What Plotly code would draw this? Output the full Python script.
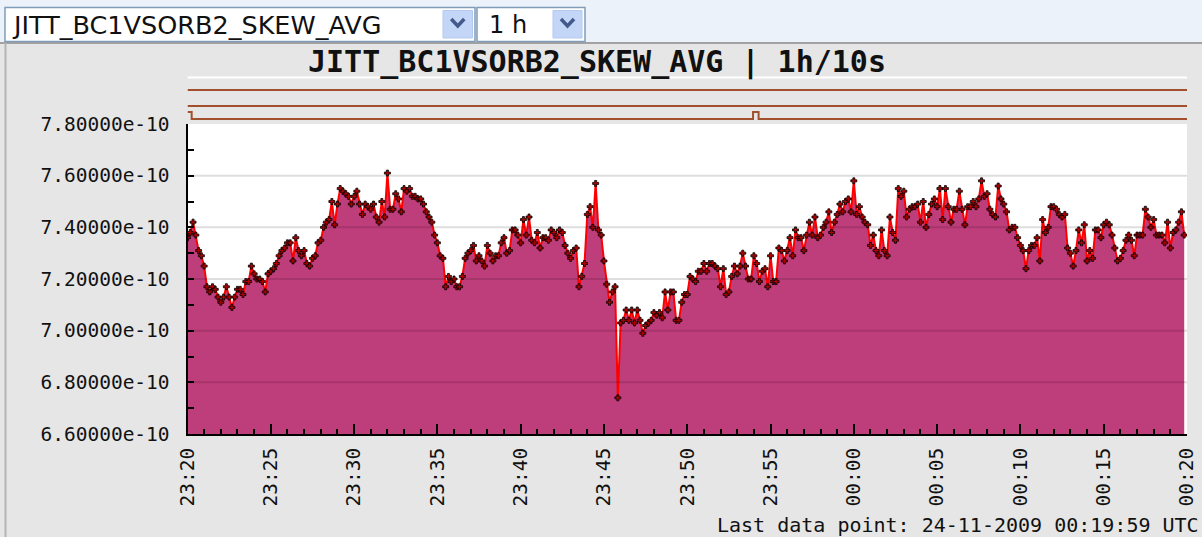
import plotly.graph_objects as go
import pandas as pd

# ---------------- data ----------------
series_name = "JITT_BC1VSORB2_SKEW_AVG"
period_label = "1 h"
title_text = "JITT_BC1VSORB2_SKEW_AVG | 1h/10s"
footer_text = "Last data point: 24-11-2009 00:19:59 UTC"

start_time = "2009-11-23 23:20:00"
end_time = "2009-11-24 00:20:00"
sample_step = "10s"

# values in units of 1e-10 (one row per minute, 6 samples per minute)
values_e10 = [
    7.36, 7.38, 7.42, 7.37, 7.31, 7.29,
    7.25, 7.17, 7.15, 7.17, 7.16, 7.13,
    7.11, 7.13, 7.17, 7.13, 7.09, 7.13,
    7.16, 7.16, 7.14, 7.19, 7.19, 7.25,
    7.22, 7.20, 7.20, 7.19, 7.15, 7.22,
    7.23, 7.24, 7.26, 7.29, 7.31, 7.32,
    7.34, 7.34, 7.27, 7.36, 7.31, 7.29,
    7.31, 7.26, 7.25, 7.28, 7.29, 7.34,
    7.35, 7.40, 7.42, 7.43, 7.50, 7.41,
    7.49, 7.55, 7.54, 7.53, 7.52, 7.49,
    7.52, 7.54, 7.49, 7.45, 7.49, 7.48,
    7.47, 7.49, 7.44, 7.42, 7.50, 7.44,
    7.61, 7.47, 7.47, 7.53, 7.51, 7.46,
    7.55, 7.54, 7.55, 7.52, 7.52, 7.51,
    7.51, 7.49, 7.46, 7.44, 7.42, 7.37,
    7.34, 7.29, 7.28, 7.17, 7.21, 7.19,
    7.20, 7.17, 7.17, 7.21, 7.28, 7.30,
    7.31, 7.33, 7.27, 7.29, 7.27, 7.25,
    7.33, 7.30, 7.27, 7.29, 7.29, 7.34,
    7.36, 7.30, 7.31, 7.39, 7.39, 7.37,
    7.34, 7.43, 7.37, 7.44, 7.35, 7.34,
    7.38, 7.32, 7.36, 7.36, 7.35, 7.39,
    7.38, 7.36, 7.39, 7.38, 7.33, 7.30,
    7.28, 7.31, 7.32, 7.17, 7.21, 7.26,
    7.45, 7.48, 7.40, 7.57, 7.39, 7.37,
    7.27, 7.18, 7.11, 7.15, 7.17, 6.74,
    7.03, 7.04, 7.08, 7.04, 7.08, 7.03,
    7.08, 7.04, 6.99, 7.02, 7.03, 7.04,
    7.07, 7.06, 7.07, 7.05, 7.15, 7.08,
    7.15, 7.15, 7.04, 7.04, 7.11, 7.14,
    7.14, 7.21, 7.20, 7.19, 7.23, 7.23,
    7.26, 7.23, 7.26, 7.26, 7.25, 7.24,
    7.17, 7.24, 7.14, 7.15, 7.21, 7.25,
    7.22, 7.25, 7.30, 7.25, 7.20, 7.20,
    7.29, 7.26, 7.19, 7.23, 7.24, 7.17,
    7.29, 7.19, 7.19, 7.32, 7.31, 7.27,
    7.31, 7.36, 7.29, 7.39, 7.36, 7.36,
    7.31, 7.37, 7.42, 7.37, 7.44, 7.36,
    7.37, 7.40, 7.42, 7.46, 7.38, 7.42,
    7.45, 7.49, 7.46, 7.50, 7.51, 7.46,
    7.58, 7.45, 7.48, 7.44, 7.42, 7.41,
    7.33, 7.37, 7.31, 7.29, 7.39, 7.31,
    7.29, 7.44, 7.38, 7.35, 7.55, 7.52,
    7.54, 7.44, 7.47, 7.48, 7.48, 7.49,
    7.42, 7.50, 7.40, 7.45, 7.49, 7.51,
    7.48, 7.55, 7.43, 7.55, 7.48, 7.42,
    7.47, 7.47, 7.54, 7.47, 7.41, 7.48,
    7.48, 7.50, 7.48, 7.51, 7.58, 7.52,
    7.53, 7.47, 7.45, 7.44, 7.56, 7.51,
    7.49, 7.46, 7.39, 7.40, 7.40, 7.36,
    7.33, 7.31, 7.24, 7.31, 7.33, 7.33,
    7.36, 7.27, 7.43, 7.38, 7.40, 7.48,
    7.48, 7.47, 7.45, 7.44, 7.45, 7.32,
    7.30, 7.25, 7.31, 7.39, 7.34, 7.41,
    7.27, 7.31, 7.28, 7.39, 7.39, 7.36,
    7.41, 7.42, 7.41, 7.37, 7.32, 7.27,
    7.28, 7.31, 7.35, 7.37, 7.35, 7.29,
    7.37, 7.37, 7.37, 7.47, 7.44, 7.40,
    7.43, 7.37, 7.37, 7.37, 7.34, 7.42,
    7.32, 7.38, 7.39, 7.42, 7.46, 7.37,
]

# status bit lines above the chart (state changes, 'hv' steps)
status1_times = ["2009-11-23 23:20:00", "2009-11-24 00:20:00"]
status1_states = [0, 0]
status2_times = ["2009-11-23 23:20:00", "2009-11-24 00:20:00"]
status2_states = [0, 0]
status3_times = ["2009-11-23 23:20:00", "2009-11-23 23:20:15",
                 "2009-11-23 23:53:57", "2009-11-23 23:54:17",
                 "2009-11-24 00:20:00"]
status3_states = [1, 0, 1, 0, 0]

# axis ticks
y_tick_vals = [6.6e-10, 6.8e-10, 7.0e-10, 7.2e-10, 7.4e-10, 7.6e-10, 7.8e-10]
y_tick_text = ["6.60000e-10", "6.80000e-10", "7.00000e-10", "7.20000e-10",
               "7.40000e-10", "7.60000e-10", "7.80000e-10"]
x_tick_vals = ["2009-11-23 23:20", "2009-11-23 23:25", "2009-11-23 23:30",
               "2009-11-23 23:35", "2009-11-23 23:40", "2009-11-23 23:45",
               "2009-11-23 23:50", "2009-11-23 23:55", "2009-11-24 00:00",
               "2009-11-24 00:05", "2009-11-24 00:10", "2009-11-24 00:15",
               "2009-11-24 00:20"]
x_tick_text = ["23:20", "23:25", "23:30", "23:35", "23:40", "23:45", "23:50",
               "23:55", "00:00", "00:05", "00:10", "00:15", "00:20"]

# ---------------- figure ----------------
W, H = 1202, 537


def px(x):
    return x / W


def py(y):
    return 1 - y / H


times = pd.date_range(start_time, periods=len(values_e10), freq=sample_step)
values = [v * 1e-10 for v in values_e10]

MONO = "DejaVu Sans Mono"
FILL = "rgb(190,61,123)"
BROWN = "#a14f2c"

fig = go.Figure()

fig.add_trace(go.Scatter(
    x=times, y=values, mode="lines+markers",
    fill="tozeroy", fillcolor=FILL,
    line=dict(color="#ff0000", width=2),
    marker=dict(symbol="cross", size=5, color="#b00000",
                line=dict(color="black", width=0.8)),
    xaxis="x", yaxis="y", hoverinfo="x+y", showlegend=False,
))

status_base = [34, 18, 5]
status_amp = 7
for t, s, b in [(status1_times, status1_states, status_base[0]),
                (status2_times, status2_states, status_base[1]),
                (status3_times, status3_states, status_base[2])]:
    fig.add_trace(go.Scatter(
        x=pd.to_datetime(t), y=[b + status_amp * v for v in s],
        mode="lines", line=dict(color=BROWN, width=2, shape="hv"),
        xaxis="x", yaxis="y2", showlegend=False, hoverinfo="skip",
    ))

shapes = []
shapes.append(dict(type="rect", xref="paper", yref="paper",
                   x0=0, x1=1, y0=py(42), y1=1,
                   fillcolor="#ecf2fa", line=dict(width=0), layer="below"))
shapes.append(dict(type="line", xref="paper", yref="paper",
                   x0=0, x1=1, y0=py(43), y1=py(43),
                   line=dict(color="#a2a2a2", width=2)))
shapes.append(dict(type="line", xref="paper", yref="paper",
                   x0=px(5.5), x1=px(5.5), y0=0, y1=py(43),
                   line=dict(color="#b4b4b4", width=2)))
shapes.append(dict(type="rect", xref="x domain", yref="y domain",
                   x0=0, x1=1, y0=0, y1=1,
                   fillcolor="white", line=dict(width=0), layer="below"))
shapes.append(dict(type="line", xref="x domain", yref="paper",
                   x0=0, x1=1, y0=py(77.5), y1=py(77.5),
                   line=dict(color="white", width=2)))
for v in y_tick_vals[1:-1]:
    shapes.append(dict(type="line", xref="x domain", yref="y",
                       x0=0, x1=1, y0=v, y1=v,
                       line=dict(color="rgba(0,0,0,0.13)", width=2),
                       layer="above"))

for (bx0, bx1, bb0, bb1) in [(5, 475, 443, 472.5), (477, 585, 553, 582)]:
    shapes.append(dict(type="rect", xref="paper", yref="paper",
                       x0=px(bx0), x1=px(bx1), y0=py(41.5), y1=py(7.5),
                       fillcolor="white", line=dict(color="#7f9db9", width=1.5)))
    shapes.append(dict(type="rect", xref="paper", yref="paper",
                       x0=px(bb0), x1=px(bb1), y0=py(38), y1=py(10.5),
                       fillcolor="#c3d6f7", line=dict(color="#b3c9ef", width=1)))
    cx = (bb0 + bb1) / 2
    shapes.append(dict(type="path", xref="paper", yref="paper",
                       path=f"M {px(cx-6.5)} {py(19)} L {px(cx)} {py(26)} L {px(cx+6.5)} {py(19)}",
                       line=dict(color="#42598a", width=3.5)))

annotations = [
    dict(text=series_name, xref="paper", yref="paper", x=px(10), y=py(25),
         xanchor="left", yanchor="middle", showarrow=False,
         font=dict(family="DejaVu Sans", size=25.5, color="#111")),
    dict(text=period_label, xref="paper", yref="paper", x=px(487), y=py(25),
         xanchor="left", yanchor="middle", showarrow=False,
         font=dict(family="DejaVu Sans", size=24, color="#111")),
    dict(text=f"<b>{title_text}</b>", xref="paper", yref="paper",
         x=px(597), y=py(62), xanchor="center", yanchor="middle",
         showarrow=False, font=dict(family=MONO, size=30, color="#111")),
    dict(text=footer_text, xref="paper", yref="paper", x=px(1201), y=py(525),
         xanchor="right", yanchor="middle", showarrow=False,
         font=dict(family=MONO, size=20, color="#111")),
]

fig.update_layout(
    width=W, height=H, autosize=False,
    margin=dict(l=0, r=0, t=0, b=0, pad=0, autoexpand=False),
    paper_bgcolor="#e6e6e6",
    plot_bgcolor="#e6e6e6",
    showlegend=False,
    shapes=shapes,
    annotations=annotations,
    xaxis=dict(
        domain=[px(187.5), px(1187)],
        anchor="y", automargin=False,
        type="date",
        range=[start_time, end_time],
        tickmode="array", tickvals=x_tick_vals, ticktext=x_tick_text,
        tickangle=-90,
        ticks="inside", ticklen=10, tickwidth=1.5, tickcolor="black",
        minor=dict(ticks="inside", ticklen=5, tickwidth=1.5, tickcolor="black",
                   dtick=60000, tick0=start_time, showgrid=False),
        showline=True, linecolor="black", linewidth=2,
        showgrid=False, zeroline=False,
        tickfont=dict(family=MONO, size=19.5, color="#111"),
        ticklabelstandoff=4,
    ),
    yaxis=dict(
        domain=[py(434), py(124)],
        anchor="x", automargin=False,
        range=[6.6e-10, 7.8e-10],
        tickmode="array", tickvals=y_tick_vals, ticktext=y_tick_text,
        ticks="inside", ticklen=6, tickwidth=1.5, tickcolor="black",
        minor=dict(ticks="inside", ticklen=6, tickwidth=1.5, tickcolor="black",
                   dtick=1e-11, tick0=6.6e-10, showgrid=False),
        showline=True, linecolor="black", linewidth=2,
        showgrid=False, zeroline=False,
        tickfont=dict(family=MONO, size=19.5, color="#111"),
        ticklabelstandoff=12,
    ),
    yaxis2=dict(
        domain=[py(124), py(76)],
        anchor="x", automargin=False,
        range=[0, 48],
        visible=False, fixedrange=True,
    ),
)

fig.write_html(
    "out.html",
    config={"displayModeBar": False},
    post_script="document.body.style.margin='0px';document.body.style.padding='0px';document.body.style.overflow='hidden';",
)
